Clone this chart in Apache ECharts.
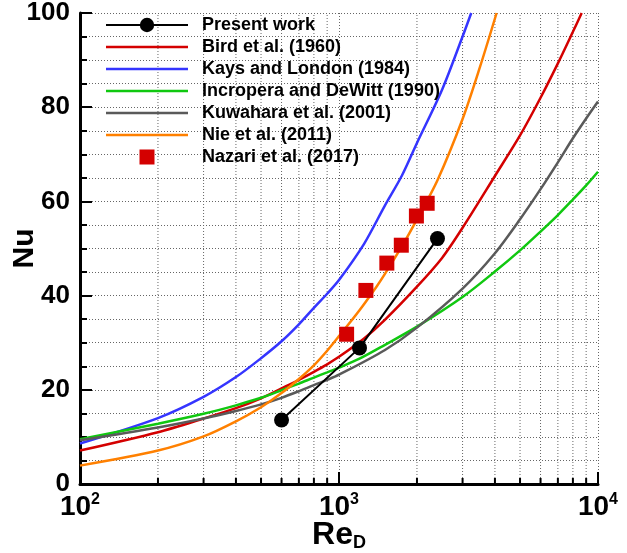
<!DOCTYPE html>
<html>
<head>
<meta charset="utf-8">
<script src="https://cdn.jsdelivr.net/npm/echarts@6/dist/echarts.min.js"></script>
<style>
html,body{margin:0;padding:0;background:#fff;}
#chart{width:627px;height:553px;}
</style>
</head>
<body>
<div id="chart"></div>
<script>
// ---- data ----
const presentRe = [600, 1200, 2400];
const presentNu = [13.6, 28.9, 52.1];

const birdRe = [100,200,300,400,500,600,700,800,900,1000,1250,1500,2000,2500,3000,4000,5000,6000,7000,8000,8650];
const birdNu = [7.1,11.0,13.9,16.1,18.2,20.3,22.1,23.8,25.4,27.0,30.9,34.8,41.9,48.0,54.4,65.4,74.0,82.0,89.3,96.0,100];

const kaysRe = [100,200,300,400,500,600,700,800,900,1000,1250,1500,1750,2000,2500,3000,3240];
const kaysNu = [8.6,14.0,18.5,22.7,26.7,30.3,33.9,37.4,40.4,43.3,51.0,59.0,65.5,72.4,83.7,95.0,100];

const incroRe = [100,200,300,400,500,600,700,800,900,1000,1200,1500,2000,3000,4000,5000,6000,7000,8000,9000,10000];
const incroNu = [9.5,12.8,14.9,16.7,18.3,19.9,21.3,22.6,23.7,24.7,26.6,29.5,33.4,39.7,45.1,49.6,53.6,57.1,60.4,63.4,66.3];

const kuwaRe = [100,200,300,400,500,600,700,800,900,1000,1500,2000,3000,4000,5000,6000,7000,8000,9000,10000];
const kuwaNu = [9.3,12.0,13.9,15.5,16.9,18.3,19.7,21.0,22.1,23.2,28.4,33.2,41.5,49.0,56.2,62.6,68.3,73.4,77.6,81.2];

const nieRe = [100,200,300,400,500,600,700,800,900,1000,1200,1400,1500,1750,2000,2400,3000,3500,4060];
const nieNu = [3.9,7.1,10.1,13.3,16.3,19.3,22.3,25.2,28.3,31.4,36.9,42.0,44.5,50.5,56.2,64.5,77.5,88.5,100];

const nazariRe = [1070, 1270, 1530, 1740, 1990, 2190];
const nazariNu = [31.8, 41.1, 46.9, 50.7, 56.9, 59.6];

const seriesNames = ['Present work','Bird et al. (1960)','Kays and London (1984)','Incropera and DeWitt (1990)','Kuwahara et al. (2001)','Nie et al. (2011)','Nazari et al. (2017)'];
const minorTicksRe = [200,300,400,500,600,700,800,900,2000,3000,4000,5000,6000,7000,8000,9000];

function pairs(xs, ys){ return xs.map((x,i)=>[x, ys[i]]); }

const FONT = '"Liberation Sans", Arial, Helvetica, sans-serif';
const LINE_ICON = 'path://M0,0H82V2.5H0Z';
const SQUARE_ICON = 'path://M0,0L0.01,0ZM1.5,1.5H16.5V16.5H1.5ZM18,18L17.99,18Z';
const chart = echarts.init(document.getElementById('chart'));

function curve(name, xs, ys, color){
  return {
    name, type:'line', data: pairs(xs, ys), symbol:'none', smooth:0.3,
    lineStyle:{color, width:2.5}, itemStyle:{color}, z:3
  };
}

chart.setOption({
  animation:false,
  backgroundColor:'#fff',
  grid:{left:80, right:29, top:13, bottom:69, containLabel:false, outerBoundsMode:'none'},
  legend:{
    orient:'vertical', left:105, top:16, padding:0,
    itemWidth:82, itemHeight:18, itemGap:4,
    data: seriesNames.map((n,i)=>{
      if (i === 0) return {name:n};
      if (i === 6) return {name:n, icon:SQUARE_ICON};
      return {name:n, icon:LINE_ICON};
    }),
    textStyle:{fontFamily:FONT, fontWeight:'bold', fontSize:18, color:'#000', padding:[0,0,0,9]}
  },
  xAxis:{
    type:'log', logBase:10, min:100, max:10000,
    name:'{r|Re}{d|D}', nameLocation:'middle', nameGap:34, nameMoveOverlap:false,
    nameTextStyle:{rich:{
      r:{fontFamily:FONT, fontWeight:'bold', fontSize:32, color:'#000'},
      d:{fontFamily:FONT, fontWeight:'bold', fontSize:18, color:'#000', padding:[16,0,0,0]}
    }},
    axisLine:{show:true, onZero:false, lineStyle:{color:'#000', width:3}},
    axisTick:{show:true, inside:true, length:12, lineStyle:{color:'#000', width:2}},
    splitLine:{show:true, lineStyle:{color:'#666', width:1, type:[1,2]}},
    axisLabel:{
      margin:8,
      formatter:(v)=>'{b|10}{s|'+Math.round(Math.log10(v))+'}',
      rich:{
        b:{fontFamily:FONT, fontWeight:'bold', fontSize:28, color:'#000'},
        s:{fontFamily:FONT, fontWeight:'bold', fontSize:16, color:'#000', padding:[0,0,14,0]}
      }
    }
  },
  yAxis:{
    type:'value', min:0, max:100, interval:20,
    name:'Nu', nameLocation:'middle', nameGap:40, nameRotate:90, nameMoveOverlap:false,
    nameTextStyle:{fontFamily:FONT, fontWeight:'bold', fontSize:30, color:'#000'},
    axisLine:{show:true, lineStyle:{color:'#000', width:3}},
    axisTick:{show:true, inside:true, length:12, lineStyle:{color:'#000', width:2}},
    minorTick:{show:true, splitNumber:4, length:7, lineStyle:{color:'#000', width:2}},
    splitLine:{show:true, lineStyle:{color:'#666', width:1, type:[1,2]}},
    minorSplitLine:{show:true, lineStyle:{color:'#666', width:1, type:[1,2]}},
    axisLabel:{margin:10, fontFamily:FONT, fontWeight:'bold', fontSize:26, color:'#000'}
  },
  series:[
    {
      type:'custom', name:'minorGrid', silent:true, z:1,
      data: minorTicksRe.map(v=>[v, 0]),
      encode:{x:0, y:1},
      renderItem:(params, api)=>{
        const v = api.value(0);
        const b = api.coord([v, 0]);
        const t = api.coord([v, 100]);
        return {type:'group', children:[
          {type:'line', shape:{x1:b[0], y1:b[1], x2:t[0], y2:t[1]}, style:{stroke:'#666', lineWidth:1, lineDash:[1,2]}},
          {type:'line', shape:{x1:b[0], y1:b[1], x2:b[0], y2:b[1]-6}, style:{stroke:'#000', lineWidth:2}}
        ]};
      }
    },
    {
      name:seriesNames[0], type:'line', data:pairs(presentRe, presentNu),
      symbol:'circle', symbolSize:15, showAllSymbol:true,
      lineStyle:{color:'#000', width:2}, itemStyle:{color:'#000'}, z:6
    },
    curve(seriesNames[1], birdRe, birdNu, '#d40000'),
    curve(seriesNames[2], kaysRe, kaysNu, '#3535ff'),
    curve(seriesNames[3], incroRe, incroNu, '#10c810'),
    curve(seriesNames[4], kuwaRe, kuwaNu, '#5a5a5a'),
    curve(seriesNames[5], nieRe, nieNu, '#ff8000'),
    {
      name:seriesNames[6], type:'scatter', data:pairs(nazariRe, nazariNu),
      symbol:'rect', symbolSize:15, itemStyle:{color:'#d40000', opacity:1}, z:5
    }
  ]
});
</script>
</body>
</html>
